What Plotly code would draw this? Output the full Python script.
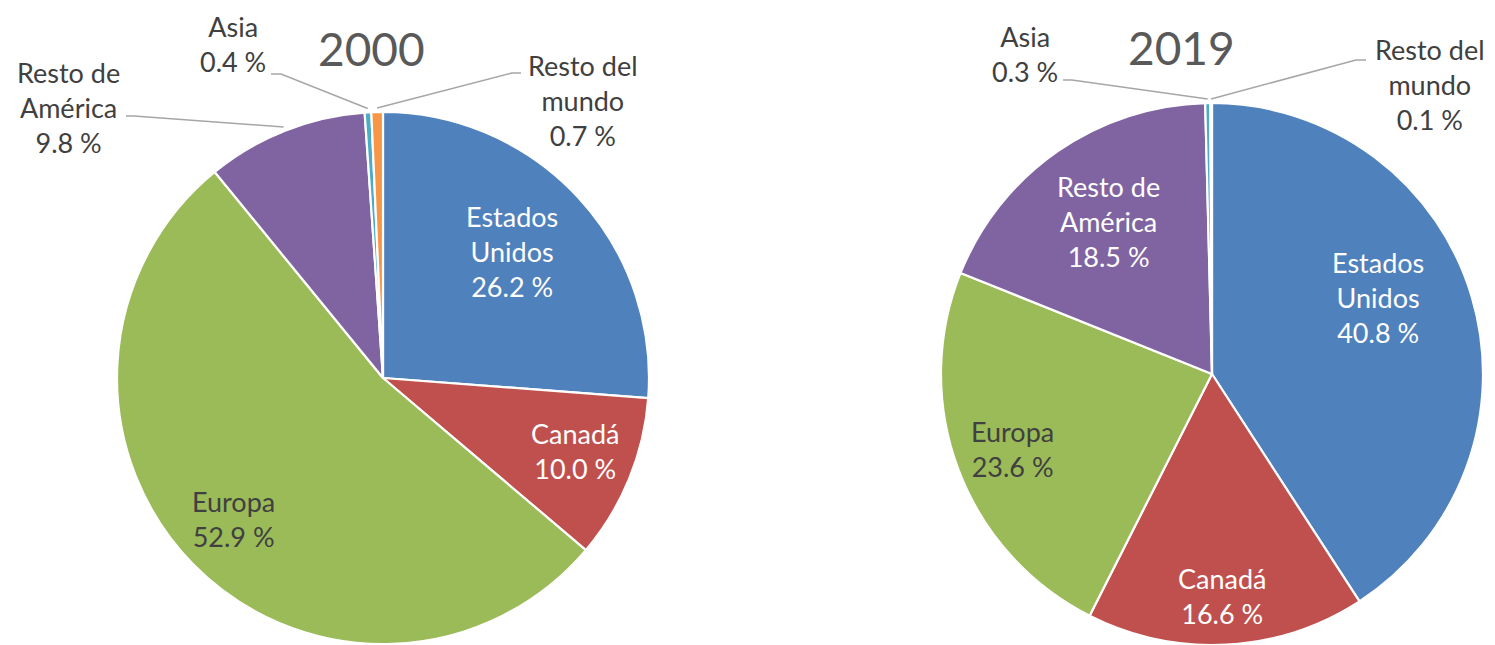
import math
import plotly.graph_objects as go

# ---------------- data ----------------
categories = ["Estados Unidos", "Canadá", "Europa", "Resto de América", "Asia", "Resto del mundo"]
label_lines = ["Estados<br>Unidos", "Canadá", "Europa", "Resto de<br>América", "Asia", "Resto del<br>mundo"]
values_2000 = [26.2, 10.0, 52.9, 9.8, 0.4, 0.7]
values_2019 = [40.8, 16.6, 23.6, 18.5, 0.3, 0.1]
years = ["2000", "2019"]

# ---------------- style ----------------
W, H = 1495, 645
colors = ["#4F81BD", "#C0504D", "#9BBB59", "#8064A2", "#4BACC6", "#F79646"]
FONT = "Lato, 'Open Sans', sans-serif"
DARK = "#404040"
WHITE = "#FFFFFF"
LINE = "#A6A6A6"

# pie bounding boxes in pixels (x0, y0, x1, y1)
boxes = [(117, 112, 649, 644), (941, 103, 1483, 645)]
title_pos = [(371, 48), (1181, 47)]

# label centers (pixels) and colours per pie, in category order
label_pos = [
    [(512, 251, WHITE), (575, 451, WHITE), (233, 519, DARK),
     (68, 108, DARK), (233, 44, DARK), (583, 100, DARK)],
    [(1378, 297, WHITE), (1222, 596, WHITE), (1012, 449, DARK),
     (1108, 221, WHITE), (1025, 54, DARK), (1430, 84, DARK)],
]
# leader line start points at the label side (pixels); None = no line
leader_start = [
    [None, None, None, [(126, 116), (134, 116)], [(271, 74), (281, 74)], [(521, 73), (512, 73)]],
    [None, None, None, None, [(1063, 80), (1072, 80)], [(1366, 60), (1356, 60)]],
]


def to_paper(px, py):
    return px / W, 1 - py / H


fig = go.Figure()
annotations = []
shapes = []

for k, vals in enumerate([values_2000, values_2019]):
    x0, y0, x1, y1 = boxes[k]
    fig.add_trace(go.Pie(
        labels=categories,
        values=vals,
        sort=False,
        direction="clockwise",
        rotation=0,
        textinfo="none",
        hoverinfo="label+value",
        marker=dict(colors=colors, line=dict(color="white", width=2.2)),
        domain=dict(x=[x0 / W, x1 / W], y=[1 - y1 / H, 1 - y0 / H]),
        showlegend=False,
    ))

    tx, ty = to_paper(*title_pos[k])
    annotations.append(dict(
        x=tx, y=ty, xref="paper", yref="paper", text=years[k], showarrow=False,
        xanchor="center", yanchor="middle",
        font=dict(family=FONT, size=46, color="#595959"),
    ))

    total = sum(vals)
    cx, cy = (x0 + x1) / 2, (y0 + y1) / 2
    r = min(x1 - x0, y1 - y0) / 2
    cum = 0.0
    for i, v in enumerate(vals):
        mid = 2 * math.pi * (cum + v / 2) / total
        cum += v
        lx, ly, col = label_pos[k][i]
        px, py = to_paper(lx, ly)
        annotations.append(dict(
            x=px, y=py, xref="paper", yref="paper",
            text=f"{label_lines[i]}<br>{v:.1f} %", showarrow=False,
            xanchor="center", yanchor="middle", align="center",
            font=dict(family=FONT, size=27, color=col),
        ))
        st = leader_start[k][i]
        if st is not None:
            ex = cx + 1.015 * r * math.sin(mid)
            ey = cy - 1.015 * r * math.cos(mid)
            pts = [to_paper(*p) for p in st] + [to_paper(ex, ey)]
            path = "M " + " L ".join(f"{a:.5f},{b:.5f}" for a, b in pts)
            shapes.append(dict(type="path", xref="paper", yref="paper", path=path,
                               line=dict(color=LINE, width=1.5)))

fig.update_layout(
    width=W, height=H,
    margin=dict(l=0, r=0, t=0, b=0),
    paper_bgcolor="white", plot_bgcolor="white",
    font=dict(family=FONT, color=DARK),
    annotations=annotations,
    shapes=shapes,
)

fig.write_html(
    "out.html",
    config={"displayModeBar": False},
    post_script="document.body.style.margin='0';document.body.style.overflow='hidden';",
)
